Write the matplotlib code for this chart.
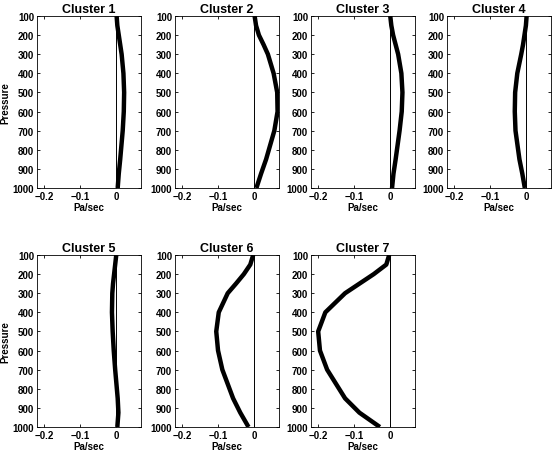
import numpy as np
import matplotlib
matplotlib.use("Agg")
import matplotlib.pyplot as plt

# 기압 레벨 (hPa)
levels = [100, 150, 200, 250, 300, 400, 500, 600, 700, 850, 925, 1000]

# 클러스터별 연직 속도 (Pa/sec)
cluster1 = [0.002, 0.004, 0.008, 0.012, 0.016, 0.021, 0.023, 0.022, 0.019, 0.012, 0.008, 0.005]
cluster2 = [0.002, 0.006, 0.014, 0.027, 0.039, 0.055, 0.065, 0.066, 0.057, 0.034, 0.020, 0.007]
cluster3 = [0.001, 0.004, 0.009, 0.016, 0.023, 0.032, 0.035, 0.033, 0.027, 0.016, 0.010, 0.006]
cluster4 = [0.002, 0.000, -0.004, -0.008, -0.013, -0.024, -0.030, -0.031, -0.029, -0.018, -0.010, -0.003]
cluster5 = [0.001, -0.002, -0.005, -0.008, -0.010, -0.011, -0.009, -0.006, -0.002, 0.005, 0.007, 0.004]
cluster6 = [-0.002, -0.010, -0.028, -0.050, -0.073, -0.098, -0.105, -0.100, -0.088, -0.058, -0.038, -0.015]
cluster7 = [-0.002, -0.010, -0.045, -0.085, -0.125, -0.180, -0.200, -0.195, -0.175, -0.125, -0.085, -0.028]

profiles = [cluster1, cluster2, cluster3, cluster4, cluster5, cluster6, cluster7]
titles = ["Cluster %d" % (i + 1) for i in range(7)]
yticks = [100, 200, 300, 400, 500, 600, 700, 800, 900, 1000]
xticks = [-0.2, -0.1, 0]
xticklabels = ["\u22120.2", "\u22120.1", "0"]

plt.rcParams['font.family'] = ['Liberation Sans', 'DejaVu Sans']
plt.rcParams['font.weight'] = 'bold'

W, H = 553, 456
fig = plt.figure(figsize=(W / 100, H / 100), dpi=100)

lefts = [37, 175, 311, 447]
rows = [(17, 189), (256, 428)]
aw = 104

for i, prof in enumerate(profiles):
    r, c = divmod(i, 4)
    top, bot = rows[r]
    ax = fig.add_axes([lefts[c] / W, 1 - bot / H, aw / W, (bot - top) / H])
    ax.axvline(0, color='black', lw=0.7)
    ax.plot(prof, levels, color='black', lw=3.2, solid_capstyle='butt')
    ax.set_xlim(-0.22, 0.07)
    ax.set_ylim(1000, 100)
    ax.set_yticks(yticks)
    ax.set_xticks(xticks)
    ax.set_xticklabels(xticklabels)
    ax.tick_params(direction='in', top=True, right=True, labelsize=7, length=2, width=0.6, pad=2)
    for lab in ax.get_xticklabels() + ax.get_yticklabels():
        lab.set_fontweight('bold')
    for sp in ax.spines.values():
        sp.set_linewidth(0.6)
    ax.set_title(titles[i], fontsize=9, fontweight='bold', pad=3)
    ax.set_xlabel("Pa/sec", fontsize=7, fontweight='bold', labelpad=1)
    if c == 0:
        ax.set_ylabel("Pressure", fontsize=7, fontweight='bold', labelpad=2)

fig.savefig("out.png", dpi=100)
